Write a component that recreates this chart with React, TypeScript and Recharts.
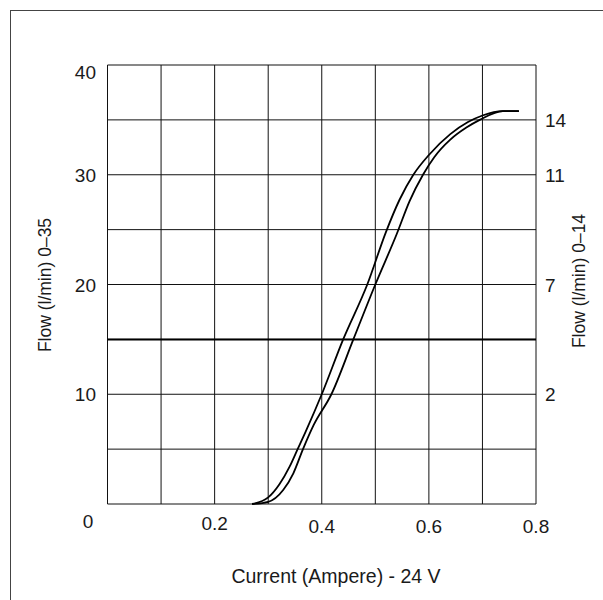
import React from 'react';
import { ComposedChart, Line, XAxis, YAxis, CartesianGrid, ReferenceLine } from 'recharts';

// rising branch (left curve of the loop)
const currentUp = [0.27, 0.3, 0.321, 0.34, 0.355, 0.37, 0.4, 0.44, 0.485, 0.52, 0.545, 0.571, 0.6, 0.64, 0.673, 0.7, 0.738, 0.768];
const flowUp = [0, 0.6, 1.8, 3.4, 5.0, 6.6, 10, 15, 20, 24.8, 27.7, 30, 31.8, 33.7, 34.8, 35.4, 35.8, 35.8];

// falling branch (right curve of the loop)
const currentDown = [0.27, 0.3, 0.328, 0.347, 0.365, 0.385, 0.418, 0.459, 0.5, 0.54, 0.564, 0.589, 0.61, 0.64, 0.67, 0.695, 0.738, 0.768];
const flowDown = [0, 0.2, 1.28, 2.8, 5.0, 7.2, 10, 15, 20, 24.6, 27.6, 30, 31.6, 33.2, 34.3, 35, 35.8, 35.8];

const xGridTicks = [0, 0.1, 0.2, 0.3, 0.4, 0.5, 0.6, 0.7, 0.8];
const xTickLabels = ['0.2', '0.4', '0.6', '0.8'];
const yGridTicks = [0, 5, 10, 15, 20, 25, 30, 35, 40];
const yTickLabels = ['0', '10', '20', '30', '40'];
const rightTickValues = [10, 20, 30, 35];
const rightTickLabels = ['2', '7', '11', '14'];
const referenceFlow = 15;

const upData = currentUp.map((x, i) => ({ x, y: flowUp[i] }));
const downData = currentDown.map((x, i) => ({ x, y: flowDown[i] }));

const FONT = '"Liberation Sans", Arial, sans-serif';
const TEXT = '#1a1a1a';
const TICK_SIZE = 19;

function XTick(props: any) {
  const { x, y, payload } = props;
  const label = payload.value.toFixed(1);
  if (!xTickLabels.includes(label)) return null;
  const dy = label === '0.2' ? 18 : 21;
  return (
    <text x={x} y={y + dy} textAnchor="middle" fontSize={TICK_SIZE} fontFamily={FONT} fill={TEXT}>
      {label}
    </text>
  );
}

function LeftTick(props: any) {
  const { y, payload } = props;
  const label = String(payload.value);
  if (!yTickLabels.includes(label)) return null;
  if (label === '0') {
    return (
      <text x={88} y={y + 24} textAnchor="middle" fontSize={TICK_SIZE} fontFamily={FONT} fill={TEXT}>
        0
      </text>
    );
  }
  const dy = label === '40' ? 14 : 7;
  return (
    <text x={96} y={y + dy} textAnchor="end" fontSize={TICK_SIZE} fontFamily={FONT} fill={TEXT}>
      {label}
    </text>
  );
}

function RightTick(props: any) {
  const { y, payload } = props;
  const i = rightTickValues.indexOf(payload.value);
  if (i < 0) return null;
  return (
    <text x={545} y={y + 7} textAnchor="start" fontSize={TICK_SIZE} fontFamily={FONT} fill={TEXT}>
      {rightTickLabels[i]}
    </text>
  );
}

function SideTitle({ cx, cy, text }: { cx: number; cy: number; text: string }) {
  return (
    <text
      x={cx}
      y={cy}
      transform={`rotate(-90 ${cx} ${cy})`}
      textAnchor="middle"
      dominantBaseline="central"
      fontSize={17.5}
      fontFamily={FONT}
      fill={TEXT}
    >
      {text}
    </text>
  );
}

export default function App() {
  return (
    <div style={{ position: 'absolute', left: 0, top: 0, width: 603, height: 600, background: '#fff' }}>
      <div
        style={{
          position: 'absolute',
          left: 10,
          top: 10,
          width: 620,
          height: 620,
          borderTop: '1.5px solid #444',
          borderLeft: '1.5px solid #444',
        }}
      />
      <ComposedChart
        width={603}
        height={600}
        margin={{ top: 65, right: 0, bottom: 0, left: 0 }}
        style={{ position: 'absolute', left: 0, top: 0 }}
      >
        <CartesianGrid yAxisId="left" stroke="#111" strokeWidth={1} />
        <XAxis
          type="number"
          dataKey="x"
          domain={[0, 0.8]}
          ticks={xGridTicks}
          height={96}
          axisLine={false}
          tickLine={false}
          tick={<XTick />}
          interval={0}
          label={{
            content: () => (
              <text x={336} y={583} textAnchor="middle" fontSize={19.5} fontFamily={FONT} fill={TEXT}>
                Current (Ampere) - 24 V
              </text>
            ),
          }}
        />
        <YAxis
          yAxisId="left"
          type="number"
          domain={[0, 40]}
          ticks={yGridTicks}
          width={107.5}
          axisLine={false}
          tickLine={false}
          tick={<LeftTick />}
          interval={0}
          label={{ content: () => <SideTitle cx={45} cy={285} text="Flow (l/min) 0–35" /> }}
        />
        <YAxis
          yAxisId="right"
          orientation="right"
          type="number"
          domain={[0, 40]}
          ticks={rightTickValues}
          width={67}
          axisLine={false}
          tickLine={false}
          tick={<RightTick />}
          interval={0}
          label={{ content: () => <SideTitle cx={579} cy={281} text="Flow (l/min) 0–14" /> }}
        />
        <ReferenceLine yAxisId="left" y={referenceFlow} stroke="#000" strokeWidth={2} />
        <Line
          yAxisId="left"
          data={upData}
          dataKey="y"
          type="monotone"
          stroke="#000"
          strokeWidth={1.8}
          dot={false}
          activeDot={false}
          isAnimationActive={false}
        />
        <Line
          yAxisId="left"
          data={downData}
          dataKey="y"
          type="monotone"
          stroke="#000"
          strokeWidth={1.8}
          dot={false}
          activeDot={false}
          isAnimationActive={false}
        />
        {/* invisible series so the right axis gets its ticks */}
        <Line
          yAxisId="right"
          data={upData}
          dataKey="y"
          stroke="none"
          strokeOpacity={0}
          dot={false}
          activeDot={false}
          legendType="none"
          isAnimationActive={false}
        />
      </ComposedChart>
    </div>
  );
}
